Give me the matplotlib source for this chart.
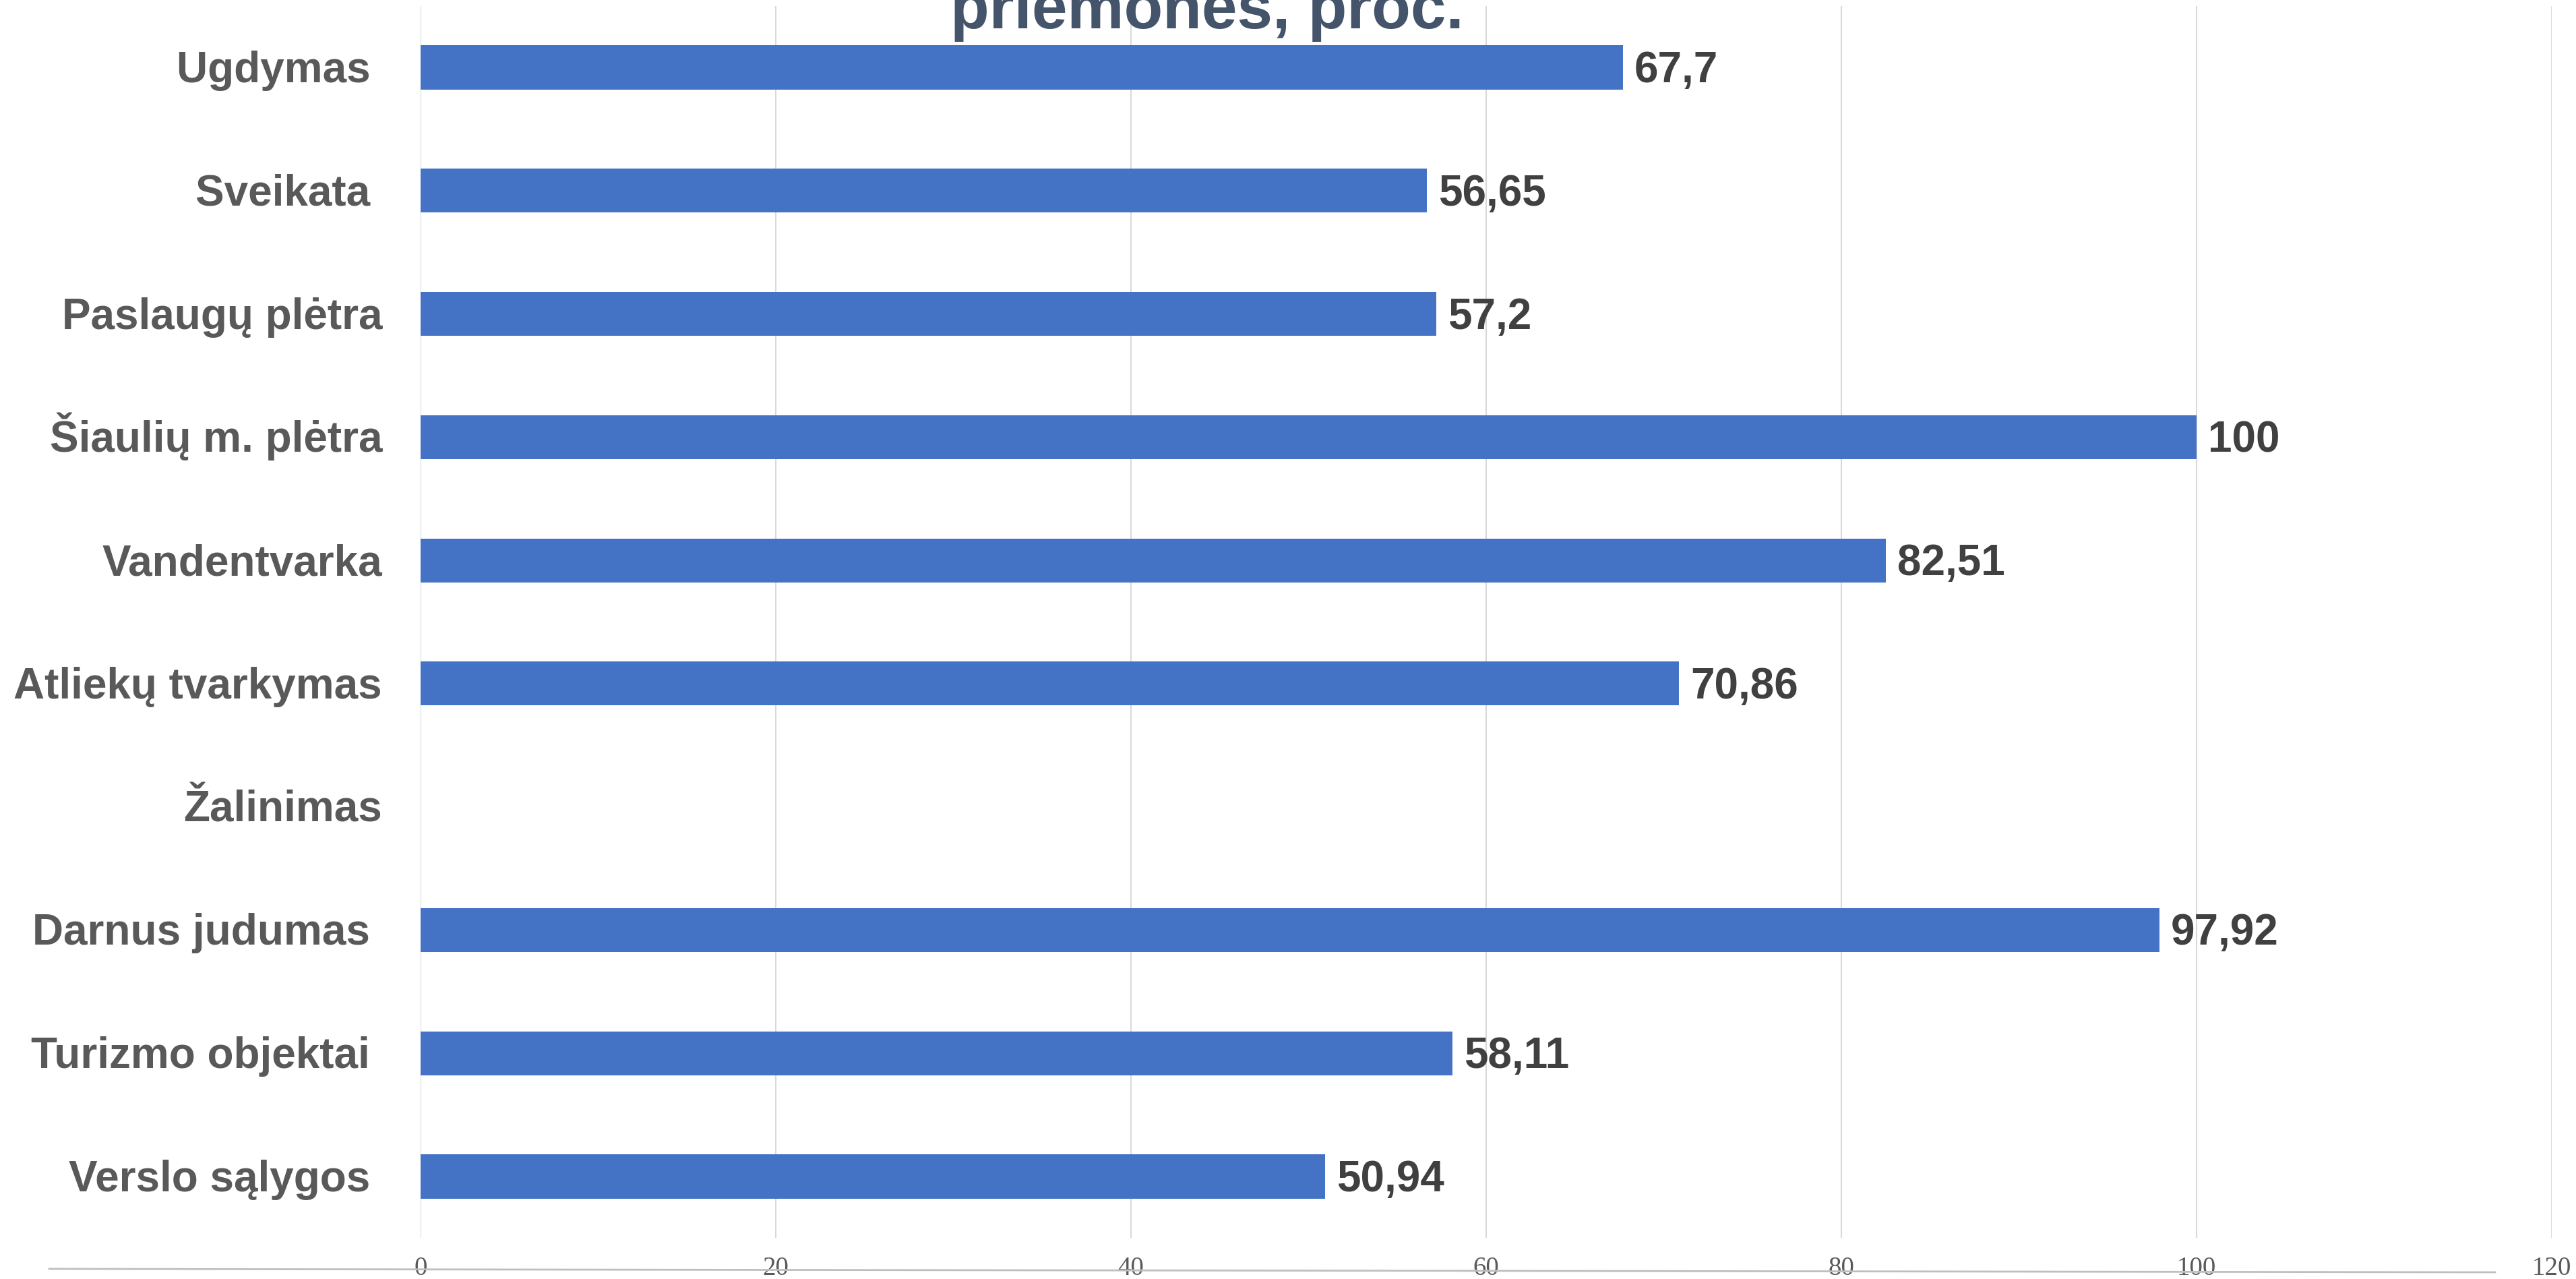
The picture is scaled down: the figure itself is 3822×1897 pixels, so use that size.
import numpy as np
import matplotlib
matplotlib.use("Agg")
import matplotlib.pyplot as plt
import matplotlib.transforms as mtransforms
from matplotlib.lines import Line2D

categories = ["Ugdymas ", "Sveikata ", "Paslaugų plėtra", "Šiaulių m. plėtra",
              "Vandentvarka", "Atliekų tvarkymas", "Žalinimas", "Darnus judumas ",
              "Turizmo objektai ", "Verslo sąlygos "]
values = [67.7, 56.65, 57.2, 100, 82.51, 70.86, np.nan, 97.92, 58.11, 50.94]
xticks = [0, 20, 40, 60, 80, 100, 120]
title_visible = "priemonės, proc."

W, H, DPI = 3822, 1897, 100
fig = plt.figure(figsize=(W / DPI, H / DPI), dpi=DPI, facecolor="white")
ax = fig.add_axes([624 / W, 1 - 1836.4 / H, (3786 - 624) / W, (1836.4 - 8.6) / H])

y = np.arange(len(categories))
ax.barh(y, values, height=0.356, color="#4472C4", zorder=3)
ax.set_ylim(len(categories) - 0.5, -0.5)
ax.set_xlim(0, 120)
ax.set_xticks(xticks)
ax.set_xticklabels([str(t) for t in xticks], family="Liberation Serif",
                   fontsize=28, color="#595959")
ax.tick_params(axis="x", length=0, pad=19)
ax.set_yticks([])
for s in ax.spines.values():
    s.set_visible(False)
ax.grid(axis="x", color="#D9D9D9", linewidth=1.5, zorder=0)
ax.set_axisbelow(True)

# category labels
lab_tr = mtransforms.blended_transform_factory(ax.transAxes, ax.transData)
lab_tr = lab_tr + mtransforms.ScaledTranslation(-57 / DPI, -22 / DPI, fig.dpi_scale_trans)
for i, c in enumerate(categories):
    ax.text(0, i, c, transform=lab_tr, ha="right", va="baseline",
            fontsize=46, fontweight="bold", color="#595959", family="Liberation Sans")

# value labels
val_tr = ax.transData + mtransforms.ScaledTranslation(17 / DPI, -22 / DPI, fig.dpi_scale_trans)
for i, v in enumerate(values):
    if np.isnan(v):
        continue
    ax.text(v, i, f"{v:g}".replace(".", ","), transform=val_tr, ha="left", va="baseline",
            fontsize=46, fontweight="bold", color="#404040", family="Liberation Sans")

# title (only its last line is visible in the reference)
fig.text(1791 / W, 1 - 42 / H, title_visible, ha="center", va="baseline",
         fontsize=68, fontweight="bold", color="#44546A", family="Liberation Sans")

# thin axis line at bottom
fig.add_artist(Line2D([73 / W, 3702 / W], [1 - 1882 / H, 1 - 1887 / H],
                      transform=fig.transFigure, color="#BFBFBF", linewidth=2))

fig.savefig("out.png", dpi=DPI, facecolor="white")
